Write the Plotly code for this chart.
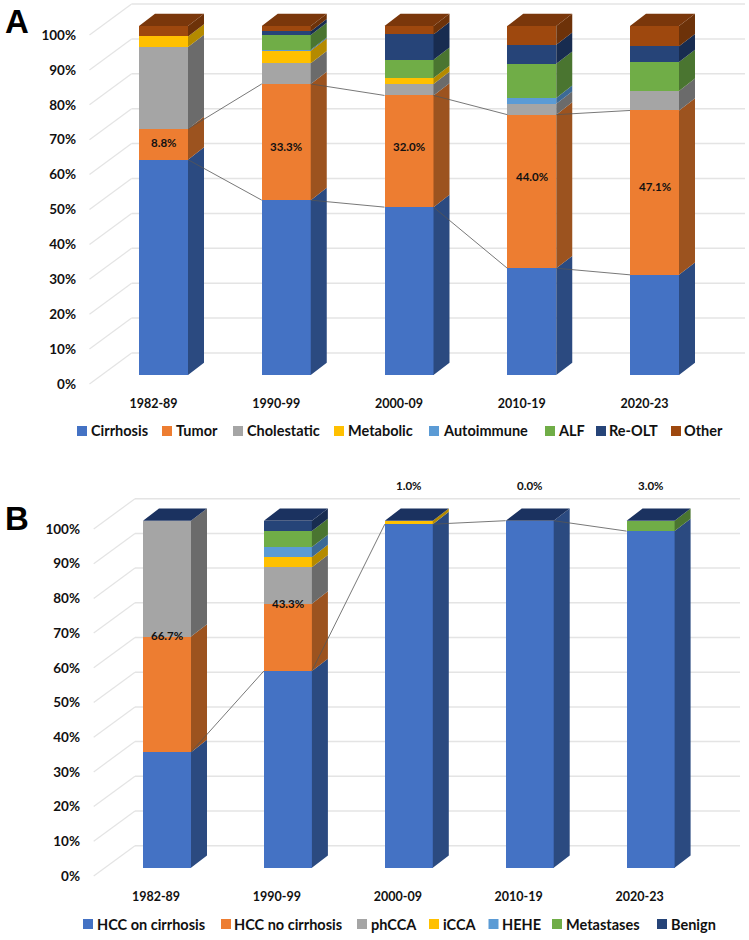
import plotly.graph_objects as go

PERIODS = ["1982-89", "1990-99", "2000-09", "2010-19", "2020-23"]
PCT_TICKS = [0, 10, 20, 30, 40, 50, 60, 70, 80, 90, 100]

A_NAMES = ["Cirrhosis", "Tumor", "Cholestatic", "Metabolic", "Autoimmune", "ALF", "Re-OLT", "Other"]
A_CIRRHOSIS = [61.7, 50.1, 48.1, 30.6, 28.7]
A_TUMOR = [8.8, 33.3, 32.0, 44.0, 47.1]
A_CHOLESTATIC = [23.5, 5.9, 3.3, 3.1, 5.6]
A_METABOLIC = [3.0, 3.6, 1.7, 0.0, 0.0]
A_AUTOIMMUNE = [0.0, 0.3, 0.0, 1.7, 0.0]
A_ALF = [0.0, 4.2, 5.2, 9.8, 8.3]
A_REOLT = [0.0, 1.1, 7.3, 5.4, 4.5]
A_OTHER = [3.0, 1.5, 2.4, 5.4, 5.8]
A_LABELS = ["8.8%", "33.3%", "32.0%", "44.0%", "47.1%"]
A_LABEL_Y = [66.6, 65.4, 65.4, 57.0, 53.9]

B_NAMES = ["HCC on cirrhosis", "HCC no cirrhosis", "phCCA", "iCCA", "HEHE", "Metastases", "Benign"]
B_HCC_CIRR = [33.3, 56.7, 99.0, 100.0, 97.0]
B_HCC_NOCIRR = [33.3, 19.4, 0.0, 0.0, 0.0]
B_PHCCA = [33.4, 10.5, 0.0, 0.0, 0.0]
B_ICCA = [0.0, 2.9, 1.0, 0.0, 0.0]
B_HEHE = [0.0, 2.9, 0.0, 0.0, 0.0]
B_METS = [0.0, 4.6, 0.0, 0.0, 3.0]
B_BENIGN = [0.0, 3.0, 0.0, 0.0, 0.0]
B_LABELS = ["66.7%", "43.3%", "1.0%", "0.0%", "3.0%"]
B_LABEL_Y = [66.8, 76.1, 110.0, 110.0, 110.0]

FRONT = ["#4472C4", "#ED7D31", "#A5A5A5", "#FFC000", "#5B9BD5", "#70AD47", "#264478", "#9E480E"]
SIDE = ["#2B4A80", "#9C531F", "#6B6B6B", "#B48A00", "#3C6A96", "#4A7530", "#182C50", "#6D3209"]
TOP_A = "#7A370B"
TOP_B = "#1B3260"
B_COLOR_IDX = [0, 1, 2, 3, 4, 5, 6]

W, H = 749, 940
FONT = "Lato"
TXT = "#111111"
GRID = "#E4E4E4"


def px(x):
    return x / W


def py(y):
    return 1 - y / H


fig = go.Figure()
shapes = []
annotations = []


def panel(xa, ya, series, names, colors, sides, top_color, texts, text_y, connectors, g):
    """g: pixel geometry of the panel"""
    xref, yref = xa, ya
    n = len(PERIODS)
    xs = list(range(n))
    step, unit = g["step"], g["unit"]
    w = g["bar_w"] / step
    dx = g["depth_x"] / step
    dy = g["depth_y"] / unit
    back_v = g["back_rise"] / unit
    wall_v = g["wall_drop"] / unit
    wall_x = (g["wall_left"] - g["x0"]) / step
    back_x = (g["back_left"] - g["x0"]) / step
    end_x = (g["back_right"] - g["x0"]) / step

    for v in PCT_TICKS:
        shapes.append(dict(type="line", layer="below", xref=xref, yref=yref, x0=back_x, x1=end_x,
                           y0=v + back_v, y1=v + back_v, line=dict(color=GRID, width=1.5)))
        shapes.append(dict(type="line", layer="below", xref=xref, yref=yref, x0=wall_x, x1=back_x,
                           y0=v - wall_v, y1=v + back_v, line=dict(color=GRID, width=1.2)))

    for vals, name, col in zip(series, names, colors):
        fig.add_trace(go.Bar(x=xs, y=vals, name=name, marker=dict(color=col, line=dict(width=0)),
                             width=w, xaxis=xa, yaxis=ya, showlegend=False))

    bases = [0.0] * n
    tops = []
    for vals, col in zip(series, sides):
        X, Y = [], []
        for i in range(n):
            b, t = bases[i], bases[i] + vals[i]
            if vals[i] > 0:
                r = i + w / 2
                X += [r, r + dx, r + dx, r, r, None]
                Y += [b, b + dy, t + dy, t, b, None]
            bases[i] = t
        tops.append(list(bases))
        fig.add_trace(go.Scatter(x=X, y=Y, mode="lines", fill="toself", fillcolor=col,
                                 line=dict(width=0, color=col), xaxis=xa, yaxis=ya,
                                 showlegend=False, hoverinfo="skip"))
    X, Y = [], []
    for i in range(n):
        l, r = i - w / 2, i + w / 2
        t = bases[i]
        X += [l, l + dx, r + dx, r, l, None]
        Y += [t, t + dy, t + dy, t, t, None]
    fig.add_trace(go.Scatter(x=X, y=Y, mode="lines", fill="toself", fillcolor=top_color,
                             line=dict(width=0, color=top_color), xaxis=xa, yaxis=ya,
                             showlegend=False, hoverinfo="skip"))

    for idx in connectors:
        X, Y = [], []
        for i in range(n - 1):
            X += [i + w / 2, i + 1 - w / 2, None]
            Y += [tops[idx][i], tops[idx][i + 1], None]
        fig.add_trace(go.Scatter(x=X, y=Y, mode="lines", line=dict(color="#555555", width=0.8),
                                 xaxis=xa, yaxis=ya, showlegend=False, hoverinfo="skip"))

    for i in xs:
        annotations.append(dict(x=i, y=text_y[i], xref=xref, yref=yref, text=texts[i], showarrow=False,
                                font=dict(family=FONT, size=11.5, color=TXT, weight=700)))

    xax = "xaxis" + xa[1:]
    yax = "yaxis" + ya[1:]
    left = g["plot_left"]
    fig.update_layout(**{
        xax: dict(domain=[px(left), 1], range=[(left - g["x0"]) / step, (W - g["x0"]) / step],
                  tickmode="array", tickvals=[i + g["label_dx"] / step for i in xs], ticktext=PERIODS,
                  showgrid=False, zeroline=False, showline=False, ticks="", ticklabelstandoff=g["tick_pad"],
                  tickfont=dict(family=FONT, size=12.5, color=TXT, weight=700), anchor=ya),
        yax: dict(domain=[py(g["plot_bottom"]), py(g["plot_top"])],
                  range=[(g["y0"] - g["plot_bottom"]) / unit, (g["y0"] - g["plot_top"]) / unit],
                  tickmode="array", tickvals=[v - wall_v for v in PCT_TICKS],
                  ticktext=[f"{v}%" for v in PCT_TICKS],
                  showgrid=False, zeroline=False, showline=False, ticks="", ticklabelstandoff=g["ypad"],
                  tickfont=dict(family=FONT, size=13.5, color=TXT, weight=700), anchor=xa),
    })


def legend(names, colors, marks, text_x, y):
    for name, col, m, t in zip(names, colors, marks, text_x):
        shapes.append(dict(type="rect", xref="paper", yref="paper", x0=px(m), x1=px(m + 10),
                           y0=py(y + 5), y1=py(y - 5), fillcolor=col, line=dict(width=0)))
        annotations.append(dict(x=px(t), y=py(y), xref="paper", yref="paper", text=name, showarrow=False,
                                xanchor="left", yanchor="middle", xshift=-2,
                                font=dict(family=FONT, size=14.5, color=TXT, weight=700)))


panel("x", "y",
      [A_CIRRHOSIS, A_TUMOR, A_CHOLESTATIC, A_METABOLIC, A_AUTOIMMUNE, A_ALF, A_REOLT, A_OTHER],
      A_NAMES, FRONT, SIDE, TOP_A, A_LABELS, A_LABEL_Y, [0, 1],
      dict(step=122.75, unit=3.49, x0=163.5, y0=375, bar_w=49, depth_x=16, depth_y=12.3,
           back_rise=22, wall_drop=9, wall_left=89.5, back_left=131.6, back_right=745,
           plot_left=83, plot_top=0, plot_bottom=392, label_dx=-10, tick_pad=2, ypad=6))

panel("x2", "y2",
      [B_HCC_CIRR, B_HCC_NOCIRR, B_PHCCA, B_ICCA, B_HEHE, B_METS, B_BENIGN],
      B_NAMES, [FRONT[i] for i in B_COLOR_IDX], [SIDE[i] for i in B_COLOR_IDX], TOP_B,
      B_LABELS, B_LABEL_Y, [0],
      dict(step=120.9, unit=3.47, x0=167, y0=867.7, bar_w=48, depth_x=16, depth_y=12.3,
           back_rise=22, wall_drop=8.3, wall_left=93.7, back_left=135, back_right=740,
           plot_left=87, plot_top=480, plot_bottom=885, label_dx=-11, tick_pad=2, ypad=6))

legend(A_NAMES, FRONT, [77, 162, 233, 334, 429, 545, 596, 671], [91, 176, 247, 348, 443, 558, 609, 684], 431)
legend(B_NAMES, FRONT, [83, 221, 357, 429, 488.5, 552, 657], [97, 234, 371, 443, 502, 566, 671], 924)

for letter, x, y in [("A", 3, 22), ("B", 3, 518)]:
    annotations.append(dict(x=px(x), y=py(y), xref="paper", yref="paper", text=letter, showarrow=False,
                            xanchor="left", yanchor="middle",
                            font=dict(family="Liberation Sans", size=33, color="#000000", weight=700)))

fig.update_layout(width=W, height=H, margin=dict(l=0, r=0, t=0, b=0), barmode="stack",
                  paper_bgcolor="white", plot_bgcolor="white", showlegend=False,
                  shapes=shapes, annotations=annotations)
fig.write_html("out.html", config=dict(displayModeBar=False), post_script="document.body.style.margin='0';")
